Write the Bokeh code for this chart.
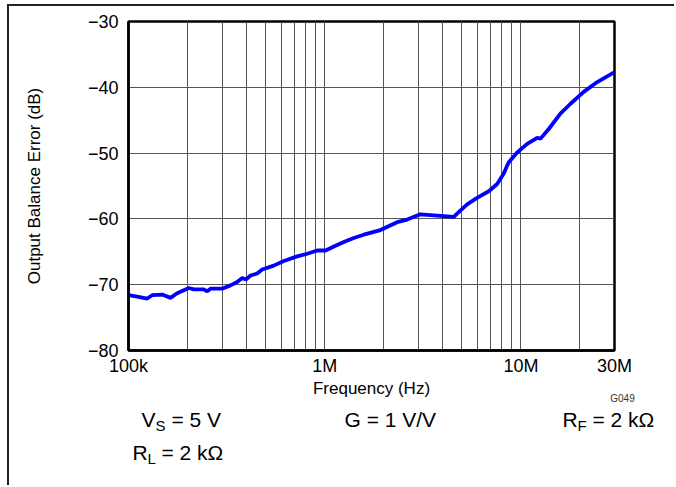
from bokeh.plotting import figure
from bokeh.models import FixedTicker, Range1d
from bokeh.core.properties import value
from bokeh.embed import file_html
from bokeh.resources import INLINE

# ---- data ----
freq_hz = [1.0e5, 1.107e5, 1.245e5, 1.32e5, 1.485e5, 1.637e5, 1.77e5, 2.03e5, 2.15e5,
           2.42e5, 2.52e5, 2.62e5, 3.0e5, 3.31e5, 3.58e5, 3.80e5, 3.98e5, 4.19e5,
           4.53e5, 4.80e5, 5.50e5, 6.19e5, 7.24e5, 8.15e5, 9.16e5, 1.01e6, 1.114e6,
           1.251e6, 1.406e6, 1.582e6, 1.923e6, 2.342e6, 2.632e6, 3.076e6, 4.549e6,
           4.73e6, 5.32e6, 5.98e6, 6.86e6, 7.57e6, 8.18e6, 8.45e6, 8.67e6, 9.57e6,
           1.077e7, 1.21e7, 1.26e7, 1.39e7, 1.59e7, 1.79e7, 2.09e7, 2.45e7, 3.0e7]
error_db = [-71.6, -71.8, -72.1, -71.6, -71.5, -72.0, -71.3, -70.5, -70.7,
            -70.7, -71.0, -70.6, -70.6, -70.1, -69.6, -69.0, -69.2, -68.6,
            -68.3, -67.7, -67.1, -66.4, -65.7, -65.3, -64.8, -64.8, -64.2,
            -63.5, -62.9, -62.4, -61.7, -60.5, -60.1, -59.3, -59.7,
            -59.2, -57.8, -56.8, -55.8, -54.7, -53.1, -52.1, -51.4, -49.9,
            -48.6, -47.7, -47.8, -46.3, -44.0, -42.5, -40.7, -39.2, -37.7]

x_major_ticks = [1e5, 1e6, 1e7, 3e7]
x_major_labels = ["100k", "1M", "10M", "30M"]
x_grid_ticks = [1e5, 2e5, 3e5, 4e5, 5e5, 6e5, 7e5, 8e5, 9e5,
                1e6, 2e6, 3e6, 4e6, 5e6, 6e6, 7e6, 8e6, 9e6,
                1e7, 2e7, 3e7]
y_ticks = [-80, -70, -60, -50, -40, -30]
y_labels = ["\u221280", "\u221270", "\u221260", "\u221250", "\u221240", "\u221230"]

FONT = "Liberation Sans"
W = 667
H1 = 394
OVERLAP = 10

# ---- main chart ----
p = figure(width=W, height=H1, x_axis_type="log",
           x_range=Range1d(1e5, 3e7), y_range=Range1d(-80, -30),
           output_backend="svg", toolbar_location=None,
           min_border_left=119, min_border_right=W - 605,
           min_border_top=15, min_border_bottom=H1 - 344)
p.styles = {"border-left": "2px solid #222", "border-top": "2px solid #222",
            "margin-left": "7px", "margin-top": "4px"}

p.outline_line_color = "black"
p.outline_line_width = 2.5
p.background_fill_color = "white"
p.border_fill_color = "white"

p.xgrid.ticker = FixedTicker(ticks=x_grid_ticks)
p.ygrid.ticker = FixedTicker(ticks=y_ticks)
for g in (p.xgrid, p.ygrid):
    g.grid_line_color = "#555555"
    g.grid_line_width = 1
    g.grid_line_alpha = 1.0

p.xaxis.ticker = FixedTicker(ticks=x_major_ticks)
p.xaxis.major_label_overrides = {t: l for t, l in zip(x_major_ticks, x_major_labels)}
p.yaxis.ticker = FixedTicker(ticks=y_ticks)
p.yaxis.major_label_overrides = {t: l for t, l in zip(y_ticks, y_labels)}
for ax in (p.xaxis, p.yaxis):
    ax.major_tick_out = 0
    ax.major_tick_in = 0
    ax.minor_tick_out = 0
    ax.minor_tick_in = 0
    ax.axis_line_color = "black"
    ax.axis_line_width = 2.5
    ax.major_label_text_font = FONT
    ax.major_label_text_font_size = "18px"
    ax.major_label_text_color = "black"
    ax.axis_label_text_font = FONT
    ax.axis_label_text_font_size = "17px"
    ax.axis_label_text_font_style = "normal"
    ax.axis_label_text_color = "black"

p.xaxis.axis_label = "Frequency (Hz)"
p.yaxis.axis_label = "Output Balance Error (dB)"
p.xaxis.major_label_standoff = 5
p.xaxis.axis_label_standoff = 0
p.yaxis.major_label_standoff = 10
p.yaxis.axis_label_standoff = 41

p.line(freq_hz, error_db, line_color="#0000FF", line_width=3.8)

# ---- conditions text panel below (separate root, page-pixel coordinates) ----
OX, OY = 9, 6 + H1 - OVERLAP  # page offset of this panel's canvas
H2 = 487 - OY
q = figure(width=W, height=H2, x_range=Range1d(OX, OX + W), y_range=Range1d(OY + H2, OY),
           output_backend="svg", toolbar_location=None,
           min_border_left=0, min_border_right=0, min_border_top=0, min_border_bottom=0)
q.styles = {"border-left": "2px solid #222", "margin-left": "7px",
            "margin-top": f"-{OVERLAP}px"}
q.axis.visible = False
q.grid.visible = False
q.outline_line_color = None
q.border_fill_color = None
q.background_fill_color = None

def txt(text, px, py, size, align="left", color="black"):
    q.text(x=[px], y=[py], text=[text], text_font=value(FONT),
           text_font_size=size, text_align=align, text_baseline="middle",
           text_color=color)

BIG, SUB = "21px", "15px"
txt("G049", 622, 400, "10px", align="center", color="#333333")
# V_S = 5 V
txt("V", 141, 421, BIG)
txt("S", 155, 427, SUB)
txt("= 5 V", 171, 421, BIG)
# G = 1 V/V
txt("G = 1 V/V", 344, 421, BIG)
# R_F = 2 kOhm
txt("R", 562, 421, BIG)
txt("F", 577, 427, SUB)
txt("= 2 k\u03a9", 592, 421, BIG)
# R_L = 2 kOhm
txt("R", 132, 454, BIG)
txt("L", 147, 460, SUB)
txt("= 2 k\u03a9", 161, 454, BIG)

open("out.html", "w").write(file_html([p, q], INLINE))
